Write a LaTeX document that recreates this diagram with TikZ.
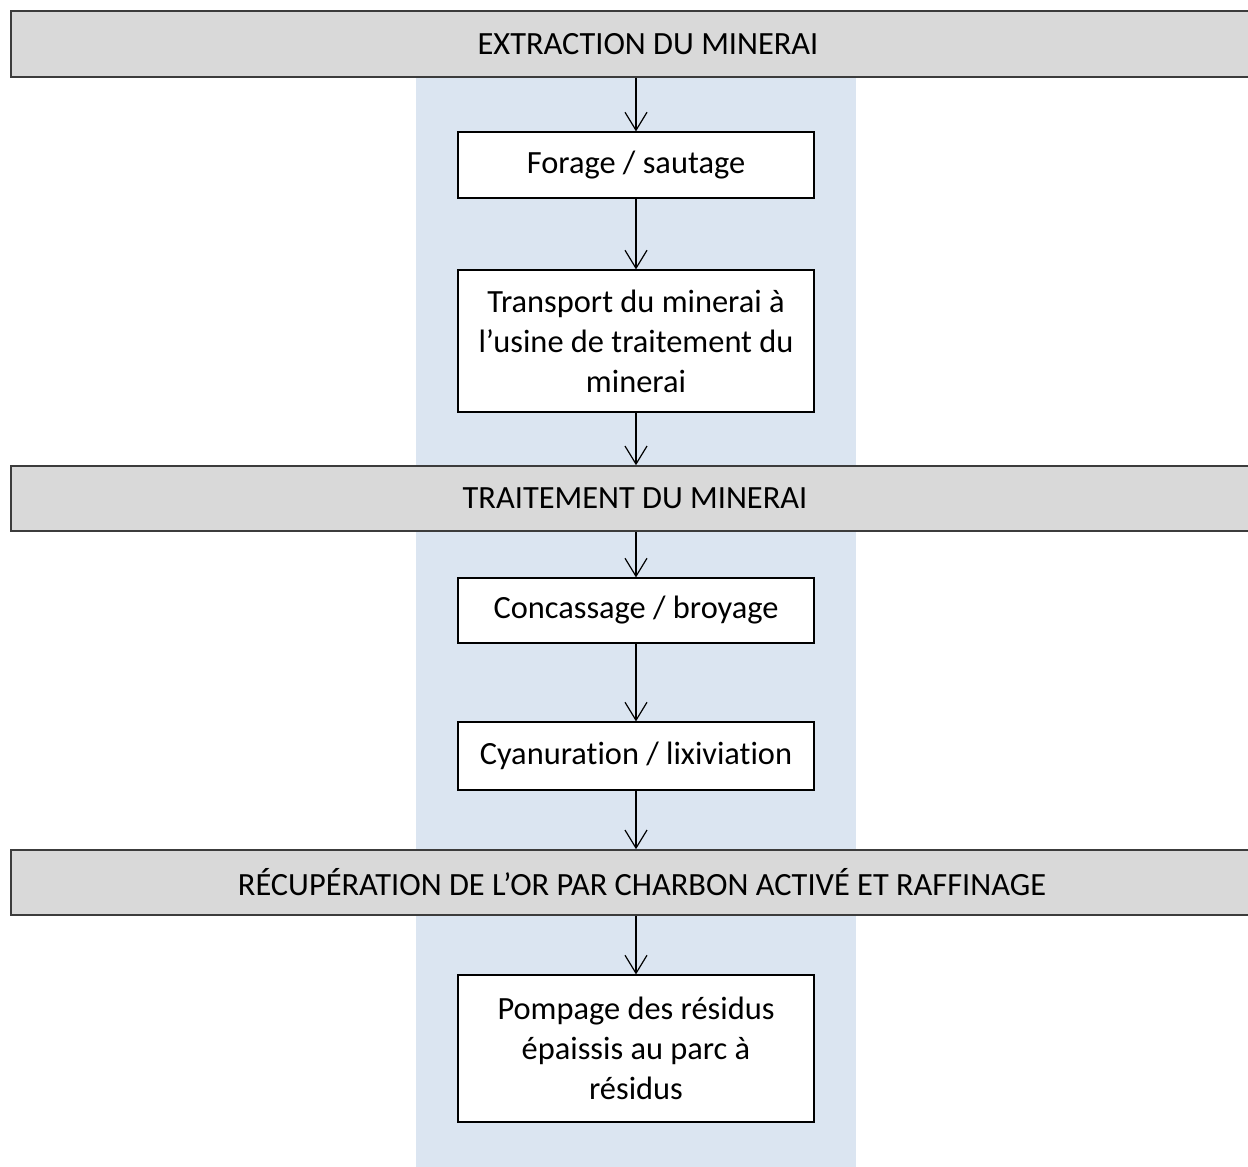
\documentclass[tikz,border=0pt]{standalone}
\usepackage{fontspec}
\setmainfont{Carlito}[Ligatures=NoCommon]
\usetikzlibrary{arrows.meta}
\definecolor{bandblue}{RGB}{219,229,241}
\definecolor{bargray}{RGB}{217,217,217}
\definecolor{bardraw}{RGB}{60,60,60}
\begin{document}
\begin{tikzpicture}[x=0.5pt,y=-0.5pt,
  every node/.style={font=\fontsize{16.2}{20}\selectfont, inner sep=0pt, align=center},
  bar/.style={draw=bardraw, fill=bargray, line width=0.8pt, rectangle},
  stepbox/.style={draw=black, fill=white, line width=0.6pt, rectangle, minimum width=178pt},
  arr/.style={draw=black, line width=0.6pt, -{Straight Barb[length=9pt,width=11pt,line width=0.6pt]}}]
\useasboundingbox (0,0) rectangle (1248,1167);
\fill[bandblue] (416,77) rectangle (856,1167);
% bars
\node[bar, minimum width=637pt, minimum height=33pt] (b1) at (648,44) {EXTRACTION DU MINERAI};
\node[bar, minimum width=624pt, minimum height=32.5pt] (b2) at (635,498.5) {TRAITEMENT DU MINERAI};
\node[bar, minimum width=631pt, minimum height=32.5pt] (b3) at (642,882.5) {RÉCUPÉRATION DE L’OR PAR CHARBON ACTIVÉ ET RAFFINAGE};
% boxes
\node[stepbox, minimum height=33pt] (s1) at (636,165) {Forage / sautage};
\node[stepbox, minimum height=71pt] (s2) at (636,341) {Transport du minerai à\\l’usine de traitement du\\minerai};
\node[stepbox, minimum height=32.5pt] (s3) at (636,610.5) {Concassage / broyage};
\node[stepbox, minimum height=34pt] (s4) at (636,756) {Cyanuration / lixiviation};
\node[stepbox, minimum height=73.5pt] (s5) at (636,1048.5) {Pompage des résidus\\épaissis au parc à\\résidus};
% connectors
\draw[arr] (s1.north |- b1.south) -- (s1.north);
\draw[arr] (s1.south) -- (s2.north);
\draw[arr] (s2.south) -- (s2.south |- b2.north);
\draw[arr] (s3.north |- b2.south) -- (s3.north);
\draw[arr] (s3.south) -- (s4.north);
\draw[arr] (s4.south) -- (s4.south |- b3.north);
\draw[arr] (s5.north |- b3.south) -- (s5.north);
\end{tikzpicture}
\end{document}
